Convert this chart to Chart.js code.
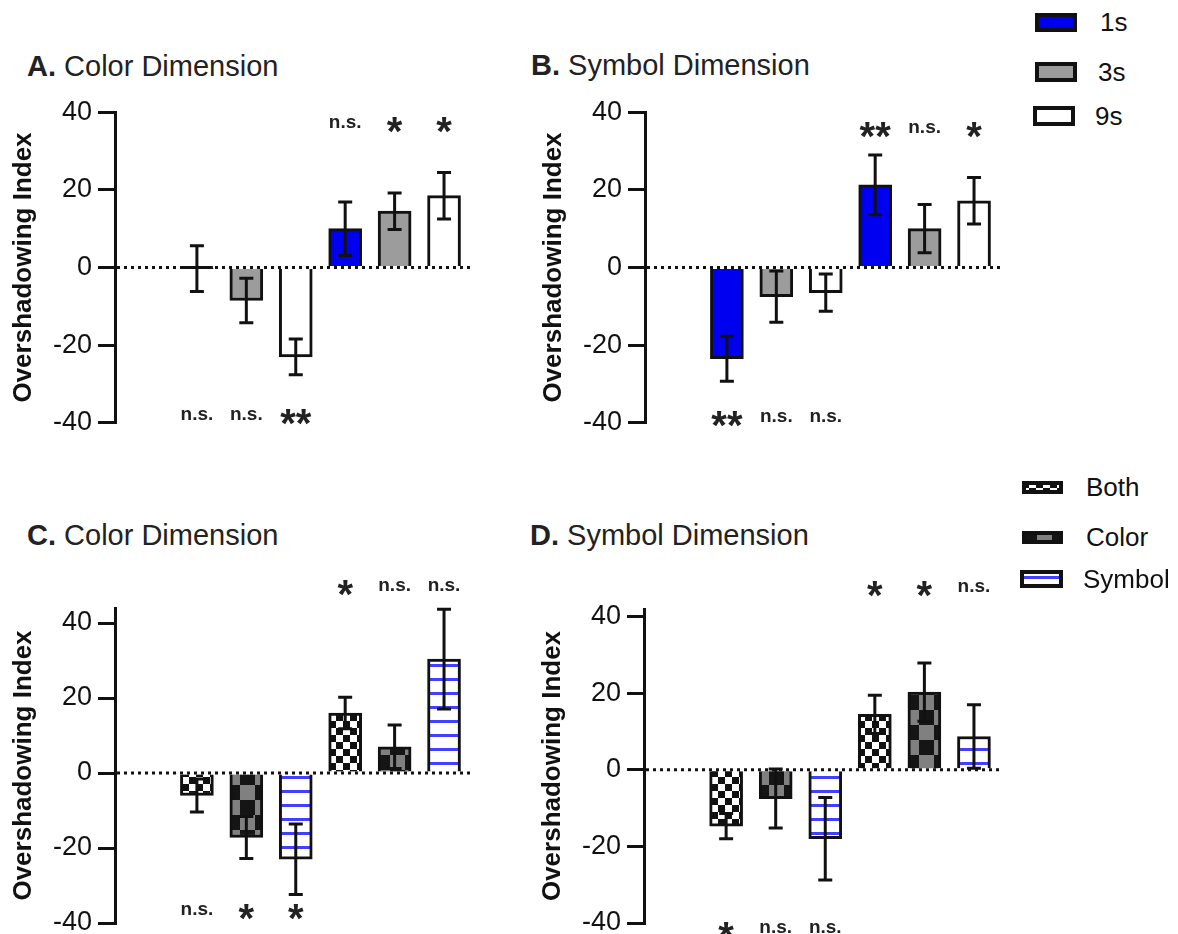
<!DOCTYPE html>
<html>
<head>
<meta charset="utf-8">
<script src="https://cdn.jsdelivr.net/npm/chart.js@4.4.1/dist/chart.umd.min.js"></script>
<style>
  body { margin: 0; background: #fff; font-family: "Liberation Sans", Arial, sans-serif; }
  #wrap { position: relative; width: 1178px; height: 934px; overflow: hidden; background: #fff; }
  #wrap canvas { position: absolute; }
  .title { position: absolute; font-size: 29px; line-height: 1; color: #222; white-space: nowrap; }
  .legtxt { position: absolute; font-size: 26px; line-height: 26px; color: #111; white-space: nowrap; }
</style>
</head>
<body>
<div id="wrap">
  <div class="title" style="left:27px;top:52px"><b>A.</b> Color Dimension</div>
  <div class="title" style="left:531px;top:51px"><b>B.</b> Symbol Dimension</div>
  <div class="title" style="left:27px;top:521px"><b>C.</b> Color Dimension</div>
  <div class="title" style="left:530px;top:521px"><b>D.</b> Symbol Dimension</div>

  <canvas id="chartA" width="520" height="355" style="left:0px;top:90px"></canvas>
  <canvas id="chartB" width="500" height="355" style="left:530px;top:90px"></canvas>
  <canvas id="chartC" width="520" height="390" style="left:0px;top:560px"></canvas>
  <canvas id="chartD" width="500" height="390" style="left:529px;top:560px"></canvas>
</div>
<script>
// bar slots: three "negative" conditions then three "positive" conditions
const xSlots = [1, 2, 3, 4, 5, 6];
const yTicks = [-40, -20, 0, 20, 40];

const delayLabels = ["1s", "3s", "9s"];
const cueLabels = ["Both", "Color", "Symbol"];

// panel A - color dimension, by delay
const meanA = [-0.3, -8.5, -23, 10, 14.5, 18.5];
const semA = [5.9, 5.7, 4.6, 6.9, 4.7, 6];
const sigA = ["n.s.", "n.s.", "**", "n.s.", "*", "*"];

// panel B - symbol dimension, by delay
const meanB = [-23.5, -7.5, -6.5, 21.3, 10, 17.2];
const semB = [5.8, 6.6, 4.8, 7.7, 6.2, 6];
const sigB = ["**", "n.s.", "n.s.", "**", "n.s.", "*"];

// panel C - color dimension, by cue
const meanC = [-6, -17.2, -23, 16, 7, 30.4];
const semC = [4.4, 5.6, 9.4, 4.2, 5.8, 13.3];
const sigC = ["n.s.", "*", "*", "*", "n.s.", "n.s."];

// panel D - symbol dimension, by cue
const meanD = [-14.7, -7.5, -18, 14.5, 20.3, 8.7];
const semD = [3.3, 7.7, 10.8, 5, 7.6, 8.3];
const sigD = ["*", "n.s.", "n.s.", "*", "*", "n.s."];

const FONT = "'Liberation Sans', Arial, sans-serif";
Chart.defaults.font.family = FONT;
Chart.defaults.color = "#111";

function makePattern(w, h, paint) {
  let c = document.createElement("canvas");
  c.width = w; c.height = h;
  let g = c.getContext("2d");
  paint(g);
  return document.createElement("canvas").getContext("2d").createPattern(c, "repeat");
}

const checkerSmall = makePattern(14, 14, (g) => {
  g.fillStyle = "#fff"; g.fillRect(0, 0, 14, 14);
  g.fillStyle = "#111"; g.fillRect(0, 0, 7, 7); g.fillRect(7, 7, 7, 7);
});
const checkerBig = makePattern(30, 30, (g) => {
  g.fillStyle = "#151515"; g.fillRect(0, 0, 30, 30);
  g.fillStyle = "#808080"; g.fillRect(15, 0, 15, 15); g.fillRect(0, 15, 15, 15);
});
const stripes = makePattern(14, 14, (g) => {
  g.fillStyle = "#fff"; g.fillRect(0, 0, 14, 14);
  g.fillStyle = "#4040ff"; g.fillRect(0, 6, 14, 3);
});

const delayFills = ["#0000f0", "#9c9c9c", "#ffffff"];
const cueFills = [checkerSmall, checkerBig, stripes];

const extras = {
  id: "extras",
  afterDatasetsDraw(chart, args, opts) {
    const { ctx, chartArea, scales } = chart;
    const x = scales.x, y = scales.y;
    ctx.save();
    // dotted zero line
    let y0 = y.getPixelForValue(0);
    ctx.strokeStyle = "#111";
    ctx.lineWidth = 3;
    ctx.setLineDash([3, 4]);
    ctx.beginPath();
    ctx.moveTo(chartArea.left + 2, y0);
    ctx.lineTo(chartArea.right, y0);
    ctx.stroke();
    ctx.setLineDash([]);
    // error bars
    opts.mean.forEach((m, i) => {
      let px = x.getPixelForValue(xSlots[i]);
      let top = y.getPixelForValue(m + opts.sem[i]);
      let bot = y.getPixelForValue(m - opts.sem[i]);
      ctx.beginPath();
      ctx.moveTo(px, top); ctx.lineTo(px, bot);
      ctx.moveTo(px - 7, top); ctx.lineTo(px + 7, top);
      ctx.moveTo(px - 7, bot); ctx.lineTo(px + 7, bot);
      // near-zero bars still show their outline as a flat line
      if (Math.abs(y.getPixelForValue(m) - y0) < 2) {
        ctx.moveTo(px - 16, y0); ctx.lineTo(px + 16, y0);
      }
      ctx.stroke();
    });
    // significance labels
    ctx.fillStyle = "#222";
    ctx.textAlign = "center";
    ctx.textBaseline = "alphabetic";
    opts.sig.forEach((s, i) => {
      let px = x.getPixelForValue(xSlots[i]);
      let cy = y.getPixelForValue(opts.mean[i] < 0 ? opts.sigLow : opts.sigHigh);
      if (s.startsWith("*")) {
        ctx.font = "bold 40px " + FONT;
        ctx.fillText(s, px, cy + 22);
      } else {
        ctx.font = "bold 19px " + FONT;
        ctx.fillText(s, px, cy + 5);
      }
    });
    ctx.restore();
  },
};

function drawPanel(id, mean, sem, sig, fills, yMax, pad, sigHigh, sigLow) {
  return new Chart(id, {
    type: "bar",
    data: {
      datasets: [
        {
          data: xSlots.map((v, i) => ({ x: v, y: mean[i] })),
          backgroundColor: xSlots.map((v, i) => fills[i % 3]),
          borderColor: "#111",
          borderWidth: 3,
          borderSkipped: "start",
          barThickness: 33,
        },
      ],
    },
    options: {
      responsive: false,
      animation: false,
      events: [],
      layout: { padding: pad },
      plugins: {
        legend: { display: false },
        tooltip: { enabled: false },
        extras: { mean: mean, sem: sem, sig: sig, sigHigh: sigHigh, sigLow: sigLow },
      },
      scales: {
        x: { type: "linear", display: false, offset: false, min: -0.657, max: 6.586 },
        y: {
          min: -40,
          max: yMax,
          afterBuildTicks: (scale) => {
            scale.ticks = yTicks.map((v) => ({ value: v }));
          },
          afterFit: (scale) => {
            scale.width = 115;
          },
          border: { display: true, color: "#111", width: 3 },
          grid: { drawOnChartArea: false, tickLength: 17, tickWidth: 3, tickColor: "#111", lineWidth: 3, color: "#111" },
          ticks: { font: { size: 27 }, color: "#111", padding: 6 },
          title: { display: true, text: "Overshadowing Index", font: { size: 26, weight: "bold" }, color: "#111", padding: { top: 8, bottom: 0 } },
        },
      },
    },
    plugins: [extras],
  });
}

drawPanel("chartA", meanA, semA, sigA, delayFills, 40, { top: 18, bottom: 22, left: 0, right: 47 }, 37.3, -37.9);
drawPanel("chartB", meanB, semB, sigB, delayFills, 40, { top: 18, bottom: 22, left: 0, right: 27 }, 36, -38.5);
drawPanel("chartC", meanC, semC, sigC, cueFills, 44, { top: 48, bottom: 27, left: 0, right: 47 }, 50, -36.5);
drawPanel("chartD", meanD, semD, sigD, cueFills, 42, { top: 49, bottom: 27, left: 0, right: 26 }, 47.8, -41.3);

// legends
const wrap = document.getElementById("wrap");
function legendItem(label, fill, sx, sw, sh, cy, tx) {
  let c = document.createElement("canvas");
  c.width = sw; c.height = sh;
  c.style.left = sx + "px";
  c.style.top = Math.round(cy - sh / 2) + "px";
  let g = c.getContext("2d");
  g.fillStyle = fill;
  g.fillRect(0, 0, sw, sh);
  g.strokeStyle = "#111";
  g.lineWidth = 4;
  g.strokeRect(2, 2, sw - 4, sh - 4);
  wrap.appendChild(c);
  let t = document.createElement("div");
  t.className = "legtxt";
  t.textContent = label;
  t.style.left = tx + "px";
  t.style.top = Math.round(cy - 13) + "px";
  wrap.appendChild(t);
}
legendItem(delayLabels[0], delayFills[0], 1035, 42, 19, 22, 1100);
legendItem(delayLabels[1], delayFills[1], 1035, 42, 20, 72, 1098);
legendItem(delayLabels[2], delayFills[2], 1033, 42, 20, 116, 1095);
legendItem(cueLabels[0], cueFills[0], 1022, 41, 13, 487, 1086);
legendItem(cueLabels[1], cueFills[1], 1022, 41, 13, 537, 1086);
legendItem(cueLabels[2], cueFills[2], 1020, 43, 18, 579, 1083);
</script>
</body>
</html>
